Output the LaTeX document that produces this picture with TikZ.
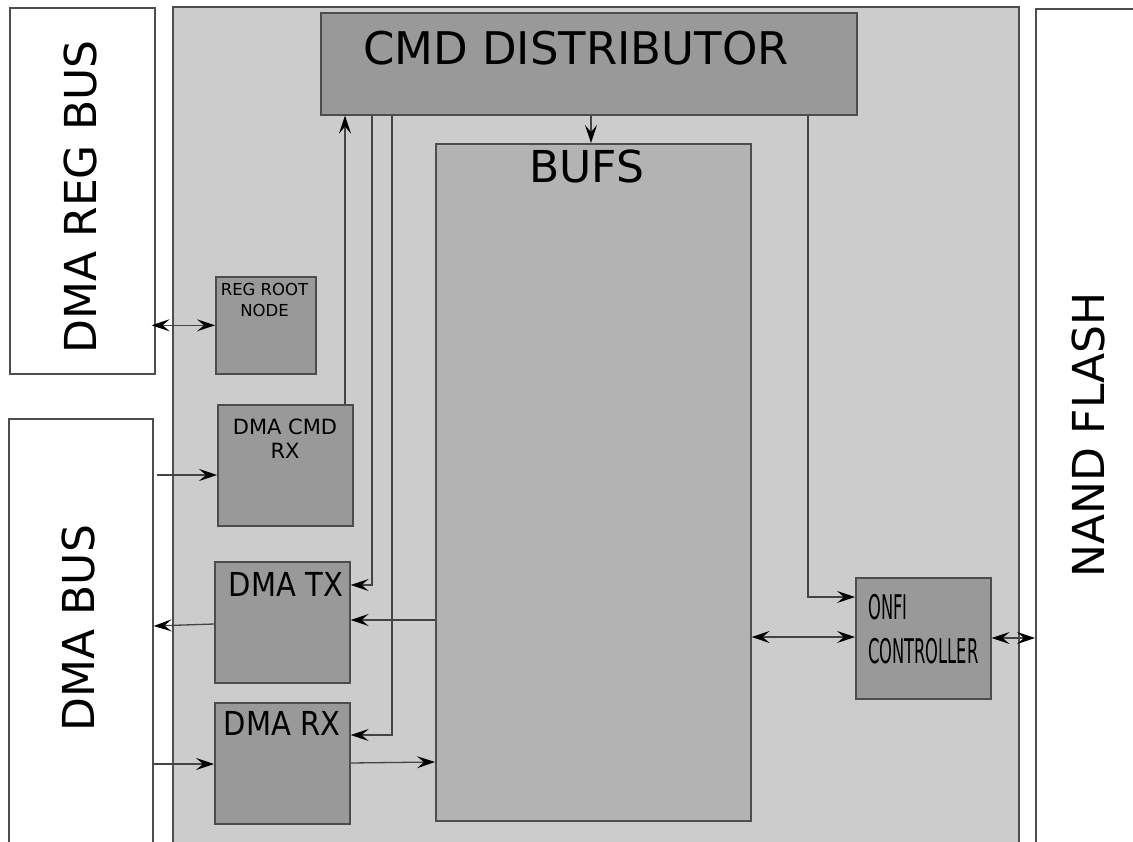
\documentclass[tikz,border=0pt]{standalone}
\usepackage{fontspec}
\setmainfont{DejaVu Sans}
\usetikzlibrary{arrows.meta,calc}
\definecolor{mainfill}{HTML}{CCCCCC}
\definecolor{boxfill}{HTML}{999999}
\definecolor{buffill}{HTML}{B3B3B3}
\definecolor{edge}{HTML}{4D4D4D}
\definecolor{wire}{HTML}{444444}
\begin{document}
\begin{tikzpicture}[x=1pt,y=-1pt,
  box/.style={draw=edge, line width=1.6pt, inner sep=0pt, anchor=north west},
  tip/.tip={Stealth[length=18pt,width=12pt,inset=7pt,color=black]},
  arr/.style={-tip, line width=1.3pt, draw=wire},
  darr/.style={tip-tip, line width=1.3pt, draw=wire},
  lbl/.style={inner sep=0pt, text=black}]
\useasboundingbox (0,0) rectangle (1133,842);
% outer blocks
\node[box, fill=white, minimum width=145pt, minimum height=366pt] (regbus) at (9,7) {};
\node[box, fill=white, minimum width=144pt, minimum height=440pt] (dmabus) at (8,418) {};
\node[box, fill=mainfill, minimum width=846pt, minimum height=850pt] (main) at (172,6) {};
\node[box, fill=white, minimum width=110pt, minimum height=850pt] (nand) at (1035,8) {};
% inner blocks
\node[box, fill=boxfill, minimum width=536pt, minimum height=102pt] (cmd) at (320,12) {};
\node[box, fill=buffill, minimum width=315pt, minimum height=677pt] (bufs) at (435,143) {};
\node[box, fill=boxfill, minimum width=100pt, minimum height=97pt] (regroot) at (215,276) {};
\node[box, fill=boxfill, minimum width=135pt, minimum height=121pt] (cmdrx) at (217,404) {};
\node[box, fill=boxfill, minimum width=135pt, minimum height=121pt] (tx) at (214,561) {};
\node[box, fill=boxfill, minimum width=135pt, minimum height=121pt] (rx) at (214,702) {};
\node[box, fill=boxfill, minimum width=135pt, minimum height=121pt] (onfi) at (855,577) {};
% labels
\node[lbl, rotate=90, font=\fontsize{44}{50}\selectfont] at (80,197) {DMA REG BUS};
\node[lbl, rotate=90, font=\fontsize{44}{50}\selectfont] at (78,628) {DMA BUS};
\node[lbl, rotate=90, font=\fontsize{44}{50}\selectfont] at (1088,435) {NAND FLASH};
\node[lbl, font=\fontsize{45}{50}\selectfont] at (576,48) {CMD DISTRIBUTOR};
\node[lbl, font=\fontsize{44}{50}\selectfont] at (586.5,166) {BUFS};
\node[lbl, align=center, font=\fontsize{16.5}{21}\selectfont] at (264.5,300) {REG ROOT\\NODE};
\node[lbl, align=center, font=\fontsize{21}{24}\selectfont] at (285,439) {DMA CMD\\RX};
\node[lbl, font=\fontsize{33}{36}\selectfont] at (286,584) {\scalebox{0.88}[1]{DMA TX}};
\node[lbl, font=\fontsize{33}{36}\selectfont] at (282,723) {\scalebox{0.88}[1]{DMA RX}};
\node[lbl, anchor=west, font=\fontsize{34}{36}\selectfont] at (868,607) {\scalebox{0.48}[1]{ONFI}};
\node[lbl, anchor=west, font=\fontsize{34}{36}\selectfont] at (868,651) {\scalebox{0.48}[1]{CONTROLLER}};
% connectors
\draw[darr] ([xshift=-4pt]regbus.east |- regroot.west) -- (regroot.west);
\draw[arr] ([xshift=3pt]dmabus.east |- 0,475) -- (cmdrx.west |- 0,475);
\draw[arr] (cmdrx.north -| 345,0) -- (cmd.south -| 345,0);
\draw[arr] (cmd.south -| 372,0) -- (372,585) -- (tx.east |- 0,585);
\draw[arr] (cmd.south -| 392,0) -- (392,735) -- (rx.east |- 0,735);
\draw[arr] (cmd.south -| 591,0) -- (bufs.north -| 591,0);
\draw[arr] (cmd.south -| 808,0) -- (808,597) -- (onfi.west |- 0,597);
\draw[arr] (bufs.west |- 0,620) -- (tx.east |- 0,620);
\draw[arr] (tx.west |- 0,624) -- (dmabus.east |- 0,626);
\draw[arr] (dmabus.east |- 0,764) -- (rx.west |- 0,764);
\draw[arr] (rx.east |- 0,763) -- (bufs.west |- 0,762);
\draw[darr] (bufs.east |- 0,637) -- (onfi.west |- 0,637);
\draw[darr] (onfi.east |- 0,638) -- (nand.west |- 0,638);
\end{tikzpicture}
\end{document}
